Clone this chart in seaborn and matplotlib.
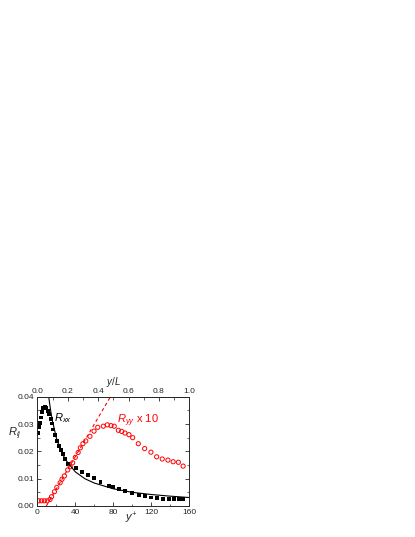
import matplotlib
matplotlib.use("Agg")
import matplotlib.pyplot as plt
import numpy as np
import pandas as pd
import seaborn as sns
from matplotlib.ticker import MultipleLocator

# R_xx points (black squares)
rxx_y = [0.7, 1.4, 2.5, 3.6, 4.9, 6.3, 7.7, 9.1, 10.9, 12.3, 14, 15.4, 17, 18.6, 21, 22.8, 24.6,
         26.7, 29.2, 32, 40.7, 47.2, 53.3, 59.5, 66.5, 75, 80, 86.3, 92.6, 100, 106.7, 113.7,
         119.7, 125.7, 132.6, 138.5, 144, 148.8, 153.7]
rxx_v = [0.0266, 0.0288, 0.0305, 0.0324, 0.0343, 0.0357, 0.0364, 0.036, 0.0349, 0.0335, 0.032,
         0.0302, 0.028, 0.026, 0.0239, 0.0221, 0.0205, 0.0189, 0.0171, 0.0153, 0.0138, 0.0123,
         0.0115, 0.0104, 0.0089, 0.0074, 0.0068, 0.0061, 0.0055, 0.0046, 0.0040, 0.0035, 0.0031,
         0.0028, 0.0026, 0.0025, 0.0024, 0.0024, 0.0024]

# R_yy x 10 points (red open circles)
ryy_y = [1.5, 4.5, 7.5, 10.5, 13.4, 15, 18, 20.5, 24, 26, 28.5, 32, 34.7, 37.2, 40, 43, 45.3, 48,
         51, 55.4, 59.7, 63.6, 69.5, 73.7, 77.6, 81, 85.3, 88.8, 92.3, 96.5, 100.4, 106.3, 113,
         119.6, 125.6, 131.5, 137.5, 143, 148.5, 153.5]
ryy_v = [0.0019, 0.0019, 0.0019, 0.0019, 0.0024, 0.0034, 0.0052, 0.0068, 0.0085, 0.0098, 0.011,
         0.0132, 0.0144, 0.0158, 0.0178, 0.0196, 0.0213, 0.0228, 0.0238, 0.0255, 0.0274, 0.0288,
         0.0292, 0.0297, 0.0294, 0.0292, 0.0277, 0.0273, 0.0267, 0.0261, 0.025, 0.0228, 0.021,
         0.0197, 0.018, 0.0172, 0.0168, 0.0162, 0.016, 0.0146]

# model curve (black solid) and red dashed line
fit_y = [12, 14, 16, 20, 25, 30, 40, 50, 60, 80, 100, 120, 140, 160]
fit_v = [0.040, 0.035, 0.031, 0.025, 0.020, 0.0168, 0.0125, 0.0100, 0.0084, 0.0063, 0.0050,
         0.0042, 0.0036, 0.0031]
dash_y = [9.5, 77]
dash_v = [0.0, 0.040]

sns.set_style("ticks")
plt.rcParams["font.family"] = ["Liberation Sans", "DejaVu Sans"]
plt.rcParams["mathtext.fontset"] = "custom"
plt.rcParams["mathtext.it"] = "Liberation Sans:italic"
plt.rcParams["mathtext.rm"] = "Liberation Sans"

fig = plt.figure(figsize=(4.15, 5.37), dpi=100)
ax = fig.add_axes([37.3 / 415, 1 - 506 / 537, 152 / 415, 109.3 / 537])

sns.lineplot(x=fit_y, y=fit_v, ax=ax, color="black", lw=0.8, sort=False)
sns.lineplot(x=dash_y, y=dash_v, ax=ax, color="red", lw=0.8, sort=False, dashes=False,
             linestyle=(0, (3, 2.5)))
sns.scatterplot(x=rxx_y, y=rxx_v, ax=ax, marker="s", s=8, color="black", edgecolor="none")
sns.scatterplot(x=ryy_y, y=ryy_v, ax=ax, marker="o", s=9, facecolor="none",
                edgecolor="red", linewidth=0.7)

ax.set_xlim(0, 160)
ax.set_ylim(0, 0.04)
ax.xaxis.set_major_locator(MultipleLocator(40))
ax.xaxis.set_minor_locator(MultipleLocator(20))
ax.yaxis.set_major_locator(MultipleLocator(0.01))
ax.yaxis.set_minor_locator(MultipleLocator(0.005))
ax.yaxis.set_major_formatter(matplotlib.ticker.FormatStrFormatter("%.2f"))
ax.tick_params(which="both", direction="in", right=True, labelsize=6, pad=2)
ax.tick_params(which="major", length=3, width=0.6)
ax.tick_params(which="minor", length=1.8, width=0.5)
for s in ax.spines.values():
    s.set_linewidth(0.7)
    s.set_visible(True)

sec = ax.secondary_xaxis("top", functions=(lambda v: v / 160, lambda v: v * 160))
sec.set_xticks([0.0, 0.2, 0.4, 0.6, 0.8, 1.0])
sec.set_xticklabels(["0.0", "0.2", "0.4", "0.6", "0.8", "1.0"])
sec.xaxis.set_minor_locator(MultipleLocator(0.1))
sec.tick_params(which="both", direction="in", labelsize=6, pad=1.5)
sec.tick_params(which="major", length=3, width=0.6)
sec.tick_params(which="minor", length=1.8, width=0.5)
sec.spines["top"].set_linewidth(0.7)

ax.set_xlabel("")
ax.set_ylabel("")
fig.text(131 / 415, 1 - 518 / 537, "$y^{+}$", fontsize=8, ha="center", va="center")
fig.text(113 / 415, 1 - 382 / 537, "$y/L$", fontsize=7, ha="center", va="center")
fig.text(15 / 415, 1 - 434 / 537, "$R_{ij}$", fontsize=8, ha="center", va="center")
ax.text(18, 0.032, "$R_{xx}$", fontsize=8, color="black", ha="left", va="center")
ax.text(84, 0.031, "$R_{yy}$ x 10", fontsize=8, color="red", ha="left", va="center")

fig.savefig("out.png", dpi=100)
